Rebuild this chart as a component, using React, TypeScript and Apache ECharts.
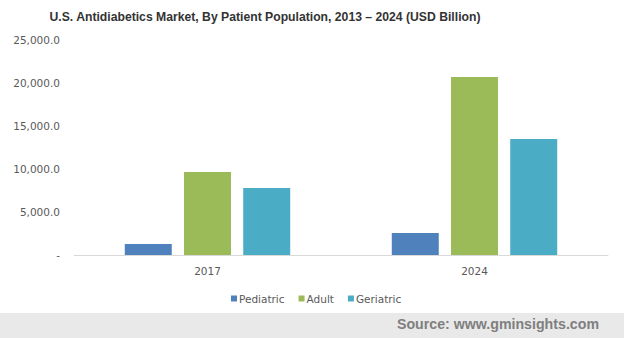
import React, { useEffect, useRef } from "react";
import * as echarts from "echarts";

const categories = ["2017", "2024"];
const seriesNames = ["Pediatric", "Adult", "Geriatric"];
const pediatric = [1280, 2560];
const adult = [9650, 20700];
const geriatric = [7790, 13490];
const colors = ["#4f81bd", "#9bbb59", "#4bacc6"];

export default function App() {
  const ref = useRef<HTMLDivElement>(null);
  useEffect(() => {
    if (!ref.current) return;
    const chart = echarts.init(ref.current, undefined, { renderer: "svg" });
    const values = [pediatric, adult, geriatric];
    chart.setOption({
      animation: false,
      backgroundColor: "#ffffff",
      title: {
        text: "U.S. Antidiabetics Market, By Patient Population, 2013 – 2024 (USD Billion)",
        left: 260,
        textAlign: "center",
        top: 6,
        textStyle: {
          fontFamily: "Liberation Sans, Arial, sans-serif",
          fontSize: 12.2,
          fontWeight: "bold",
          color: "#333333",
        },
      },
      legend: {
        data: seriesNames,
        left: 226,
        top: 288,
        icon: "rect",
        itemWidth: 6,
        itemHeight: 6,
        itemGap: 14,
        textStyle: {
          fontFamily: "DejaVu Sans, Verdana, sans-serif",
          fontSize: 10.5,
          color: "#595959",
          padding: [0, 0, 0, -3],
        },
      },
      grid: { left: 74, right: 16, top: 40, bottom: 83 },
      xAxis: {
        type: "category",
        data: categories,
        axisLine: { lineStyle: { color: "#d9d9d9", width: 1 } },
        axisTick: { show: false },
        axisLabel: {
          fontFamily: "DejaVu Sans, Verdana, sans-serif",
          fontSize: 10.5,
          color: "#595959",
          margin: 10,
        },
      },
      yAxis: {
        type: "value",
        min: 0,
        max: 25000,
        interval: 5000,
        axisLine: { show: false },
        axisTick: { show: false },
        splitLine: { show: false },
        axisLabel: {
          fontFamily: "DejaVu Sans, Verdana, sans-serif",
          fontSize: 10.5,
          color: "#595959",
          margin: 14,
          formatter: (v: number) =>
            v === 0 ? "-" : v.toLocaleString("en-US", { minimumFractionDigits: 1, maximumFractionDigits: 1 }),
        },
      },
      series: seriesNames.map((name, i) => ({
        name,
        type: "bar",
        data: values[i],
        barWidth: 47,
        barGap: "26%",
        itemStyle: { color: colors[i] },
      })),
      graphic: [
        {
          type: "rect",
          shape: { x: 0, y: 313, width: 624, height: 25 },
          style: { fill: "#e9e9e9" },
          silent: true,
        },
        {
          type: "text",
          right: 25,
          top: 317,
          style: {
            text: "Source: www.gminsights.com",
            fontFamily: "Liberation Sans, Arial, sans-serif",
            fontSize: 14.2,
            fontWeight: "bold",
            fill: "#7f7f7f",
          },
        },
      ],
    });
    return () => chart.dispose();
  }, []);
  return <div ref={ref} style={{ width: 624, height: 338, position: "absolute", left: 0, top: 0 }} />;
}
